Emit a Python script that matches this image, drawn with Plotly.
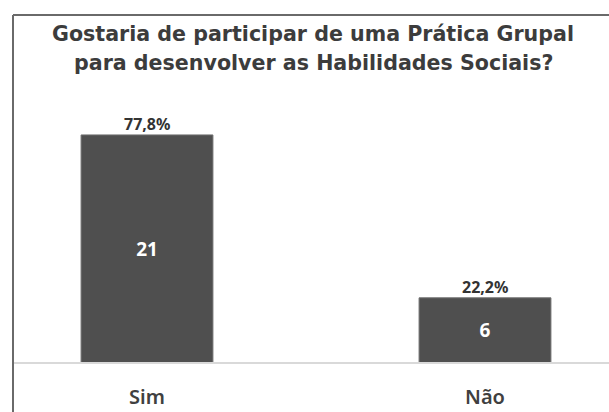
import plotly.graph_objects as go

categories = ["Sim", "Não"]
counts = [21, 6]
title_lines = ["Gostaria de participar de uma Prática Grupal",
               "para desenvolver as Habilidades Sociais?"]

total = sum(counts)
pct_labels = [f"{c / total * 100:.1f}%".replace(".", ",") for c in counts]

W, H = 609, 412
L, R, T, B = 14, 0, 100, 49
plot_w = W - L - R
plot_h = H - T - B

fig = go.Figure()
fig.add_trace(go.Bar(
    x=categories, y=counts,
    width=0.39,
    marker=dict(color="#4f4f4f", line=dict(color="#6e6e6e", width=1)),
    text=[str(c) for c in counts],
    textposition="inside", insidetextanchor="middle",
    textfont=dict(family="Noto Sans", size=19, color="white", weight="bold"),
    hoverinfo="skip",
))

annotations = []
for cat, c, p in zip(categories, counts, pct_labels):
    annotations.append(dict(x=cat, y=c, xref="x", yref="y", text=p,
                            showarrow=False, yanchor="bottom", yshift=-2,
                            font=dict(family="Noto Sans", size=16, color="#333333", weight="bold")))

for i, line in enumerate(title_lines):
    ypix = 34 + i * 29
    annotations.append(dict(
        x=(313 - L) / plot_w, y=(H - B - ypix) / plot_h, xref="paper", yref="paper",
        text=line, showarrow=False, xanchor="center", yanchor="middle",
        font=dict(family="DejaVu Sans", size=20.6, color="#3c3c3c", weight="bold")))

shapes = [
    dict(type="line", xref="paper", yref="paper",
         x0=(13 - L) / plot_w, x1=(13 - L) / plot_w,
         y0=(H - B - 15) / plot_h, y1=(H - B - 430) / plot_h,
         line=dict(color="#6a6a6a", width=2)),
    dict(type="line", xref="paper", yref="paper",
         x0=(13 - L) / plot_w, x1=1.05,
         y0=(H - B - 15) / plot_h, y1=(H - B - 15) / plot_h,
         line=dict(color="#6a6a6a", width=2)),
    dict(type="line", xref="paper", yref="paper",
         x0=0, x1=1, y0=0, y1=0,
         line=dict(color="#d9d9d9", width=2)),
]

fig.update_layout(
    width=W, height=H,
    margin=dict(l=L, r=R, t=T, b=B),
    paper_bgcolor="white", plot_bgcolor="white",
    showlegend=False,
    annotations=annotations,
    shapes=shapes,
    xaxis=dict(range=[(L - 147) / 338, (W - R - 147) / 338],
               showgrid=False, zeroline=False, showline=False, ticks="",
               tickfont=dict(family="Noto Sans", size=20, color="#404040", weight=600),
               ticklabelstandoff=20, fixedrange=True),
    yaxis=dict(range=[0, plot_h / 10.86], visible=False, fixedrange=True),
)

fig.write_html("out.html")
